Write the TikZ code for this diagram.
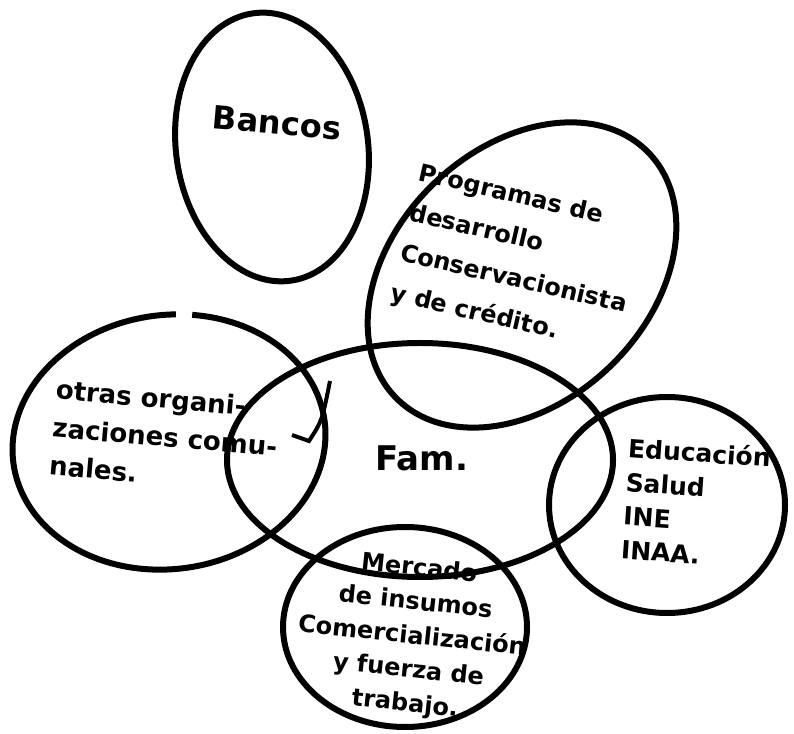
\documentclass[tikz,border=0pt]{standalone}
\usepackage{fontspec}
\setmainfont{DejaVu Sans}
\usepackage{tikz}
\definecolor{tinta}{gray}{0.0}

\begin{document}
\begin{tikzpicture}[x=1pt,y=1pt,
  borde/.style={tinta,line width=6pt},
  letra/.style={tinta,inner sep=0pt}]
  \useasboundingbox[fill=white] (0,0) rectangle (794,733);
  \draw[borde,rotate around={8:(272,586)}] (272,586) ellipse[x radius=96pt,y radius=135pt];
  \draw[borde,rotate around={44:(522,458)}] (522,458) ellipse[x radius=176pt,y radius=127pt];
  \draw[borde,shift={(169,291)},rotate=8] (81:157pt and 127pt)
    arc[start angle=81,end angle=435,x radius=157pt,y radius=127pt];
  \draw[borde] (420,273) ellipse[x radius=193pt,y radius=117pt];
  \draw[borde] (667,228) ellipse[x radius=118pt,y radius=108pt];
  \draw[borde] (405,106) ellipse[x radius=122pt,y radius=100pt];
  \draw[borde,line width=4pt] (330,352) .. controls (322,312) .. (309,292) -- (292,298);
  \node[letra,rotate=-5,font=\bfseries\fontsize{32}{38}\selectfont] (bancos) at (277,610) {Bancos};
  \node[letra,rotate=-13,align=left,font=\bfseries\fontsize{24}{41}\selectfont] (programas) at (518,473)
    {Programas de\\desarrollo\\Conservacionista\\y de crédito.};
  \node[letra,rotate=-5,align=left,font=\bfseries\fontsize{26}{38}\selectfont] (otras) at (165,296)
    {otras organi-\\zaciones comu-\\nales.};
  \node[letra,font=\bfseries\fontsize{34}{40}\selectfont] (familia) at (422,275) {Fam.};
  \node[letra,rotate=-4,align=left,font=\bfseries\fontsize{25}{34}\selectfont] (servicios) at (696,230)
    {Educación\\Salud\\INE\\INAA.};
  \node[letra,rotate=-6,align=center,font=\bfseries\fontsize{24}{34}\selectfont] (mercado) at (412,96)
    {Mercado\\de insumos\\Comercialización\\y fuerza de\\trabajo.};
\end{tikzpicture}
\end{document}
